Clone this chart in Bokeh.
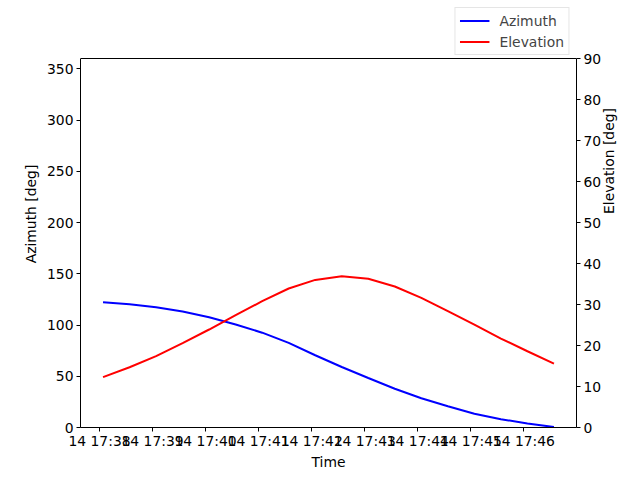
import math
from datetime import datetime, timedelta

from bokeh.plotting import figure
from bokeh.models import (Range1d, LinearAxis, FixedTicker, DatetimeTickFormatter,
                          Legend, LegendItem, Span)
from bokeh.embed import file_html
from bokeh.resources import INLINE

# ---- data ----
start_time = datetime(2024, 1, 14, 17, 38, 4)
step_seconds = 30
azimuth = [122.2, 120.3, 117.4, 113.2, 107.6, 100.5, 92.5, 82.5, 70.5,
           59.0, 48.3, 37.8, 28.6, 20.8, 13.4, 8.1, 3.9, 0.6]
elevation = [12.3, 14.7, 17.4, 20.6, 23.9, 27.4, 30.8, 33.9, 36.0,
             36.9, 36.3, 34.4, 31.6, 28.4, 25.1, 21.7, 18.6, 15.6]
tick_times = ["17:38", "17:39", "17:40", "17:41", "17:42",
              "17:43", "17:44", "17:45", "17:46"]
az_ticks = [0, 50, 100, 150, 200, 250, 300, 350]
el_ticks = [0, 10, 20, 30, 40, 50, 60, 70, 80, 90]
az_limits = (0, 360)
el_limits = (0, 90)

times = [start_time + timedelta(seconds=step_seconds * i) for i in range(len(azimuth))]
epoch = datetime(1970, 1, 1)


def to_ms(dt):
    return (dt - epoch).total_seconds() * 1000.0


tick_ms = []
for t in tick_times:
    h, m = t.split(":")
    tick_ms.append(to_ms(start_time.replace(hour=int(h), minute=int(m), second=0)))

span = times[-1] - times[0]
pad = span * 0.05

# layout: canvas 640x480, axes box 80..576 x 58..427; the frame extends up to the
# top of the canvas so the legend can sit above the axes box.
W, H = 640, 480
BOX_TOP, BOX_BOTTOM = 58, 427
frame_h = BOX_BOTTOM          # frame from 0 to 427
box_h = BOX_BOTTOM - BOX_TOP  # 369
stretch = frame_h / box_h

FONT = "DejaVu Sans"
FS = "13.9px"

p = figure(width=W, height=H, x_axis_type="datetime", output_backend="svg",
           toolbar_location=None, title=None,
           x_range=Range1d(start=times[0] - pad, end=times[-1] + pad),
           y_range=Range1d(start=az_limits[0], end=az_limits[1] * stretch),
           min_border_left=80, min_border_right=64, min_border_top=0,
           min_border_bottom=H - BOX_BOTTOM)
p.extra_y_ranges = {"el": Range1d(start=el_limits[0], end=el_limits[1] * stretch)}

p.grid.visible = False
p.outline_line_color = None
p.background_fill_color = "white"
p.border_fill_color = "white"

az = p.line(times, azimuth, line_color="blue", line_width=2)
el = p.line(times, elevation, line_color="red", line_width=2, y_range_name="el")

# top spine of the axes box
p.add_layout(Span(location=az_limits[1], dimension="width",
                  line_color="black", line_width=1))

right_axis = LinearAxis(y_range_name="el", axis_label="Elevation [deg]")
p.add_layout(right_axis, "right")

p.xaxis.ticker = FixedTicker(ticks=tick_ms)
fmt = "%d %H:%M"
p.xaxis.formatter = DatetimeTickFormatter(
    microseconds=fmt, milliseconds=fmt, seconds=fmt, minsec=fmt, minutes=fmt,
    hourmin=fmt, hours=fmt, days=fmt, months=fmt, years=fmt)
p.xaxis.axis_label = "Time"
p.yaxis[0].axis_label = "Azimuth [deg]"
p.yaxis[0].ticker = FixedTicker(ticks=az_ticks)
p.yaxis[0].bounds = az_limits
right_axis.ticker = FixedTicker(ticks=el_ticks)
right_axis.bounds = el_limits

for ax in [p.xaxis[0], p.yaxis[0], right_axis]:
    ax.major_label_text_font = FONT
    ax.major_label_text_font_size = FS
    ax.major_label_text_color = "black"
    ax.axis_label_text_font = FONT
    ax.axis_label_text_font_size = FS
    ax.axis_label_text_font_style = "normal"
    ax.axis_label_text_color = "black"
    ax.axis_line_color = "black"
    ax.axis_line_width = 1
    ax.major_tick_line_color = "black"
    ax.major_tick_line_width = 1
    ax.major_tick_out = 4
    ax.major_tick_in = 0
    ax.minor_tick_out = 0
    ax.minor_tick_in = 0
    ax.major_label_standoff = 3
    ax.axis_label_standoff = 5

p.xaxis[0].major_label_standoff = 1
p.xaxis[0].axis_label_standoff = 2

try:
    right_axis.axis_label_orientation = math.pi / 2
    right_axis.axis_label_text_align = "center"
except Exception:
    pass

legend = Legend(items=[LegendItem(label="Azimuth", renderers=[az]),
                       LegendItem(label="Elevation", renderers=[el])],
                location="top_right", orientation="vertical")
legend.label_text_font = FONT
legend.label_text_font_size = FS
legend.border_line_color = "#cccccc"
legend.border_line_width = 1
legend.background_fill_color = "white"
legend.background_fill_alpha = 0.8
legend.glyph_width = 30
legend.glyph_height = 17
legend.label_height = 17
legend.label_standoff = 10
legend.spacing = 4
legend.padding = 4
legend.margin = 7
p.add_layout(legend, "center")

open("out.html", "w").write(file_html(p, INLINE))
